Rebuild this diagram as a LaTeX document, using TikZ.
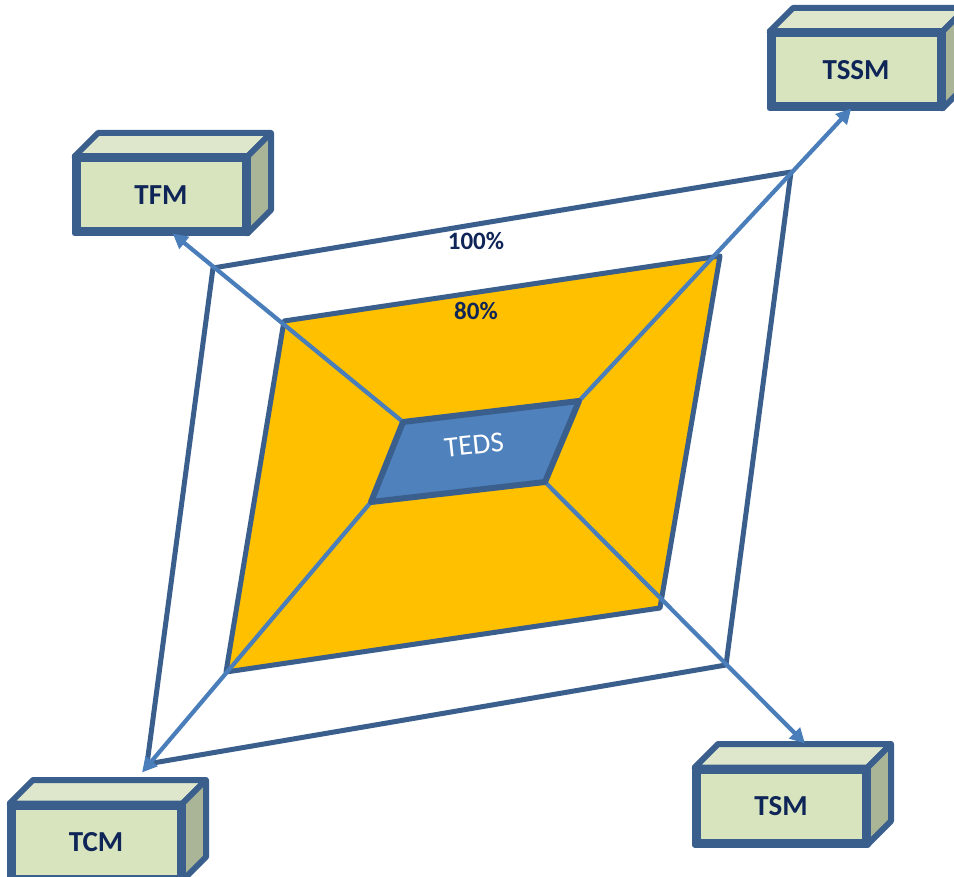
\documentclass[tikz,border=0pt]{standalone}
\usepackage{fontspec}
\setmainfont{Carlito}
\usetikzlibrary{arrows.meta,calc}
\definecolor{edgeblue}{HTML}{3A5F8D}
\definecolor{linkblue}{HTML}{4A7EBB}
\definecolor{tedsblue}{HTML}{4F81BD}
\definecolor{orangefill}{HTML}{FFC000}
\definecolor{navy}{HTML}{0F2557}
\definecolor{boxfront}{HTML}{D7E4BD}
\definecolor{boxtop}{HTML}{DEE6CB}
\definecolor{boxside}{HTML}{AAB597}
\tikzset{
  quadedge/.style={draw=edgeblue,line width=5pt,line join=round},
  link/.style={draw=linkblue,line width=4.2pt,-{Triangle[length=15pt,width=15pt]}},
  frontface/.style={draw=edgeblue,fill=boxfront,line width=6pt,minimum width=167pt,minimum height=71pt,inner sep=0pt,
     font=\bfseries\fontsize{29}{32}\selectfont,text=navy},
  cubeface/.style={draw=edgeblue,line width=6pt,line join=round},
  pct/.style={font=\bfseries\fontsize{25}{28}\selectfont,text=navy}
}
\begin{document}
\begin{tikzpicture}[x=1pt,y=-1pt]
\useasboundingbox (0,0) rectangle (954,877);
% outer 100% frame
\coordinate (o1) at (213,268);
\coordinate (o2) at (791,172);
\coordinate (o3) at (726,665);
\coordinate (o4) at (147,764);
\draw[quadedge,fill=white] (o1)--(o2)--(o3)--(o4)--cycle;
% inner 80% frame
\coordinate (i1) at (284,321);
\coordinate (i2) at (720,256);
\coordinate (i3) at (660,608);
\coordinate (i4) at (226,672);
\draw[quadedge,fill=orangefill] (i1)--(i2)--(i3)--(i4)--cycle;
\node[pct] (p100) at (476,241) {100\%};
\node[pct] (p80) at (476,311) {80\%};
% TEDS corners
\coordinate (t1) at (403,422);
\coordinate (t2) at (579,401);
\coordinate (t3) at (545,482);
\coordinate (t4) at (371,502);
% boxes
\newcommand\cubebox[3]{%
  \node[frontface] (#1) at (#2) {#3};
  \draw[cubeface,fill=boxtop] (#1.north west) -- ++(23.5,-23.5) -- ($(#1.north east)+(23.5,-23.5)$) -- (#1.north east) -- cycle;
  \draw[cubeface,fill=boxside] (#1.north east) -- ++(23.5,-23.5) -- ($(#1.south east)+(23.5,-23.5)$) -- (#1.south east) -- cycle;
  \draw[cubeface] (#1.north west) rectangle (#1.south east);
}
\cubebox{tfm}{161,195}{TFM}
\cubebox{tssm}{856,70}{TSSM}
\cubebox{tcm}{96,842}{TCM}
\cubebox{tsm}{781,806}{TSM}
\coordinate (tcmtip) at ($(tcm.north)+(46,-31)$);
\coordinate (tsmtip) at ($(tsm.north)+(24,-24)$);
% connectors
\draw[link] (t1) -- (tfm.-73);
\draw[link] (t2) -- (tssm.-97);
\draw[link] (t4) -- (tcmtip);
\draw[link] (t3) -- (tsmtip);
% TEDS
\draw[draw=edgeblue,fill=tedsblue,line width=6pt,line join=round] (t1)--(t2)--(t3)--(t4)--cycle;
\node[text=white,font=\fontsize{29}{31}\selectfont,rotate=6] (teds) at (474,445) {TEDS};
\end{tikzpicture}
\end{document}
